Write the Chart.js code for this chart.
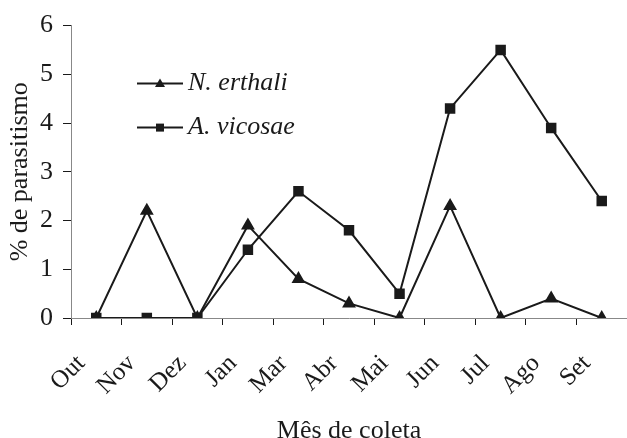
<!DOCTYPE html>
<html>
<head>
<meta charset="utf-8">
<script src="https://cdn.jsdelivr.net/npm/chart.js@4/dist/chart.umd.min.js"></script>
<style>
  html, body { margin: 0; padding: 0; background: #fff; overflow: hidden; }
  canvas { display: block; }
</style>
</head>
<body>
<canvas id="myChart" width="627" height="438"></canvas>
<script>
var months = ["Out", "Nov", "Dez", "Jan", "Mar", "Abr", "Mai", "Jun", "Jul", "Ago", "Set"];
var erthali = [0, 2.2, 0, 1.9, 0.8, 0.3, 0, 2.3, 0, 0.4, 0];
var vicosae = [0, 0, 0, 1.4, 2.6, 1.8, 0.5, 4.3, 5.5, 3.9, 2.4];
var yTicks = [0, 1, 2, 3, 4, 5, 6];

var ink = "#1a1a1a";
var serif = "'Liberation Serif', 'Times New Roman', serif";

// legend drawn inside the plot, like the original
var innerLegend = {
    id: "innerLegend",
    afterDraw: function(chart) {
        var ctx = chart.ctx;
        var a = chart.chartArea;
        var x0 = a.left + 66;
        var rows = [a.top + 58, a.top + 102];
        chart.data.datasets.forEach(function(ds, i) {
            var y = rows[i];
            ctx.save();
            ctx.strokeStyle = ink;
            ctx.lineWidth = 2;
            ctx.beginPath();
            ctx.moveTo(x0, y);
            ctx.lineTo(x0 + 46, y);
            ctx.stroke();
            ctx.fillStyle = ink;
            var cx = x0 + 23;
            ctx.beginPath();
            if (ds.pointStyle === "triangle") {
                ctx.moveTo(cx, y - 5);
                ctx.lineTo(cx + 5, y + 3.5);
                ctx.lineTo(cx - 5, y + 3.5);
                ctx.closePath();
            } else {
                ctx.rect(cx - 4, y - 4, 8, 8);
            }
            ctx.fill();
            ctx.font = "italic 26px " + serif;
            ctx.textBaseline = "middle";
            ctx.textAlign = "left";
            ctx.fillText(ds.label, x0 + 51, y);
            ctx.restore();
        });
    }
};

new Chart("myChart", {
    type: "line",
    data: {
        labels: months,
        datasets: [
            {
                label: "N. erthali",
                data: erthali,
                borderColor: ink,
                backgroundColor: ink,
                borderWidth: 2,
                pointStyle: "triangle",
                pointRadius: 6,
                tension: 0
            },
            {
                label: "A. vicosae",
                data: vicosae,
                borderColor: ink,
                backgroundColor: ink,
                borderWidth: 2,
                pointStyle: "rect",
                pointRadius: 6,
                tension: 0
            }
        ]
    },
    options: {
        responsive: false,
        animation: false,
        devicePixelRatio: 1,
        layout: { autoPadding: false, padding: { top: 19, right: -4, bottom: 0, left: 0 } },
        plugins: {
            legend: { display: false },
            tooltip: { enabled: false }
        },
        scales: {
            x: {
                offset: true,
                grid: { drawOnChartArea: false, offset: true, tickLength: 7, color: ink },
                border: { color: "#888" },
                ticks: {
                    minRotation: 45,
                    maxRotation: 45,
                    labelOffset: -15,
                    padding: 24,
                    color: ink,
                    font: { family: serif, size: 25 }
                },
                title: {
                    display: true,
                    text: "Mês de coleta",
                    color: ink,
                    font: { family: serif, size: 26, lineHeight: 1 },
                    padding: { top: 0, bottom: -6 }
                },
                afterFit: function(scale) {
                    scale.height = 120;
                    scale.paddingLeft = 0;
                    scale.paddingRight = 0;
                }
            },
            y: {
                min: 0,
                max: 6,
                afterBuildTicks: function(scale) {
                    scale.ticks = yTicks.map(function(v) { return { value: v }; });
                },
                grid: { drawOnChartArea: false, tickLength: 8, color: ink },
                border: { color: "#888" },
                ticks: {
                    padding: 10,
                    color: ink,
                    font: { family: serif, size: 26 }
                },
                title: {
                    display: true,
                    text: "% de parasitismo",
                    color: ink,
                    font: { family: serif, size: 26 },
                    padding: { top: 5, bottom: 0 }
                },
                afterFit: function(scale) { scale.width = 71; }
            }
        }
    },
    plugins: [innerLegend]
});
</script>
</body>
</html>
